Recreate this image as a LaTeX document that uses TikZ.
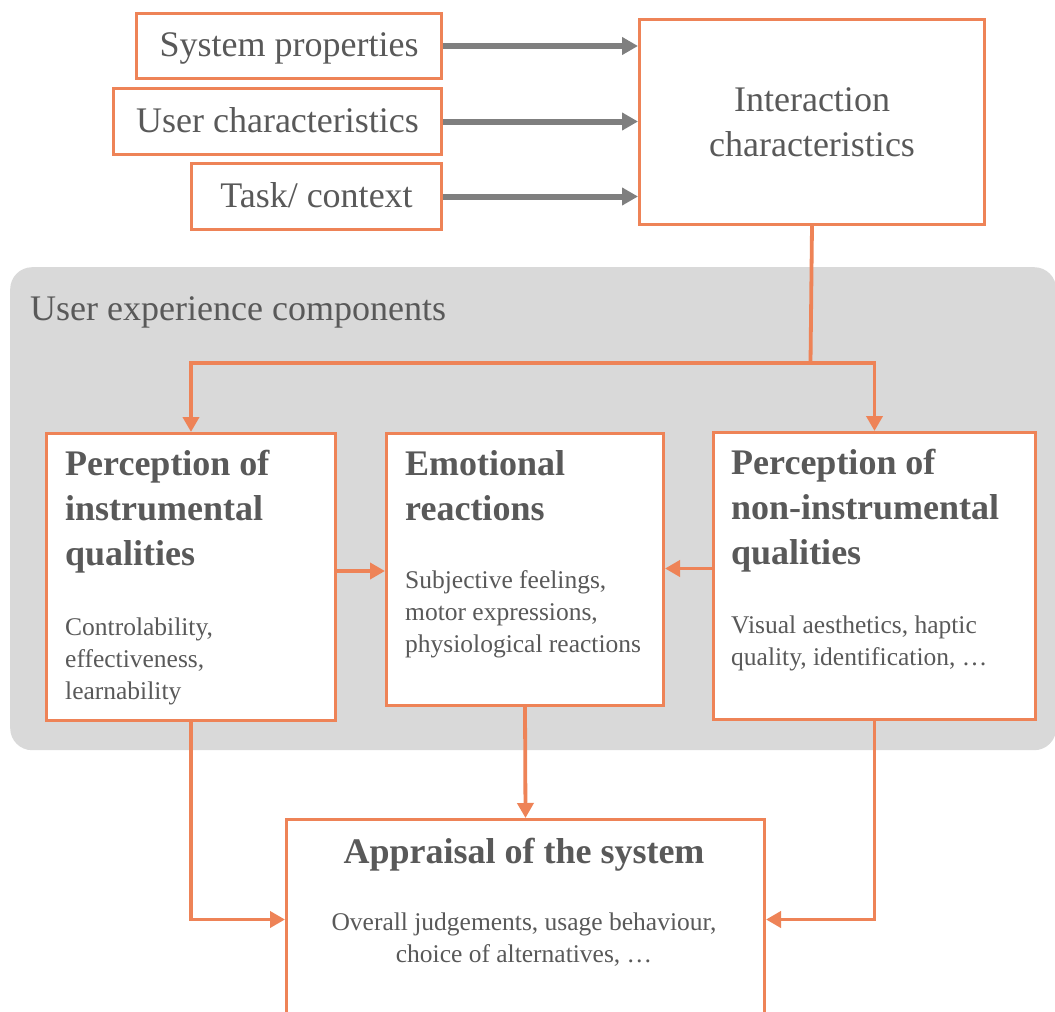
\documentclass[tikz,border=0pt]{standalone}
\usepackage{fontspec}
\setmainfont{Liberation Serif}
\usetikzlibrary{arrows.meta}

\definecolor{accent}{HTML}{EE8357}
\definecolor{panelgray}{HTML}{D9D9D9}
\definecolor{ink}{HTML}{595959}
\definecolor{arrowgray}{HTML}{7F7F7F}

% invisible rule that fixes the height of a first text line
\newcommand{\lineup}[1]{\rule{0pt}{#1}}

\begin{document}
\begin{tikzpicture}[x=1pt,y=-1pt,
  frame/.style={draw=accent, line width=3pt, fill=white, inner sep=0pt, anchor=north west},
  inbox/.style={frame, text=ink, font=\fontsize{36}{45}\selectfont,
                text height=24pt, text depth=3pt},
  head/.style={anchor=north west, inner sep=0pt, align=left, text=ink,
               font=\fontsize{36}{45}\selectfont\bfseries},
  body/.style={anchor=north west, inner sep=0pt, align=left, text=ink,
               font=\fontsize{25.5}{32}\selectfont},
  feed/.style={draw=arrowgray, line width=6pt,
               -{Triangle[length=16pt,width=17pt]}},
  flow/.style={draw=accent, line width=3.8pt},
  flowto/.style={flow, -{Triangle[length=15pt,width=16pt]}}
]
\clip (0,0) rectangle (1055,1012);
\fill[white] (0,0) rectangle (1055,1012);

% grey panel of the user experience components
\node[fill=panelgray, rounded corners=22pt, inner sep=0pt, anchor=north west,
      minimum width=1046pt, minimum height=483pt] (panel) at (10,267) {};
\node[anchor=north west, inner sep=0pt, text=ink, font=\fontsize{36}{45}\selectfont]
  (paneltitle) at (30,290) {\lineup{30pt}User experience components};

% input boxes
\node[inbox, minimum width=305pt, minimum height=65pt] (sys)  at (135,12)  {System properties};
\node[inbox, minimum width=328pt, minimum height=66pt] (usr)  at (112,87)  {User characteristics};
\node[inbox, minimum width=250pt, minimum height=66pt] (task) at (190,162) {Task/ context};

\node[frame, minimum width=345pt, minimum height=205pt, align=center, text=ink,
      font=\fontsize{36}{45}\selectfont] (ic) at (638,18) {Interaction\\characteristics};

% component boxes
\node[frame, minimum width=289pt, minimum height=287pt] (pinst) at (45,432) {};
\node[frame, minimum width=277pt, minimum height=272pt] (emo)   at (385,432) {};
\node[frame, minimum width=322pt, minimum height=287pt] (pnon)  at (712,431) {};

% outcome box, running past the lower edge
\node[frame, minimum width=478pt, minimum height=200pt] (appr) at (285,818) {};

% feeds into the interaction characteristics
\draw[feed] (sys.east)  -- (sys.east  -| ic.west);
\draw[feed] (usr.east)  -- (usr.east  -| ic.west);
\draw[feed] (task.east) -- (task.east -| ic.west);

% branching from the interaction characteristics
\coordinate (split) at (810.5,363);
\draw[flow] (ic.south) -- (split);
\draw[flowto] (split) -| (pinst.north);
\draw[flowto] (split) -| (pnon.north);

% links between the components
\draw[flowto] ([yshift=6pt]pinst.east) -- ([yshift=6pt]pinst.east -| emo.west);
\draw[flowto] ([yshift=7.5pt]pnon.west) -- ([yshift=7.5pt]pnon.west -| emo.east);

% links to the appraisal
\draw[flowto] (pinst.south) |- (appr.west);
\draw[flowto] (pnon.south)  |- (appr.east);
\draw[flowto] (emo.south)   -- (appr.north);

% texts of the component boxes
\node[head] (hinst) at (65,445)  {\lineup{30pt}Perception of\\instrumental\\qualities};
\node[body] (binst) at (65,615)  {\lineup{20pt}Controlability,\\effectiveness,\\learnability};

\node[head] (hemo)  at (405,445) {\lineup{30pt}Emotional\\reactions};
\node[body] (bemo)  at (405,568) {\lineup{20pt}Subjective feelings,\\motor expressions,\\physiological reactions};

\node[head] (hnon)  at (731,444) {\lineup{30pt}Perception of\\non-instrumental\\qualities};
\node[body] (bnon)  at (731,613) {\lineup{20pt}Visual aesthetics, haptic\\quality, identification, …};

\node[head, anchor=north, align=center] (happr) at (524,833)
  {\lineup{30pt}Appraisal of the system};
\node[body, anchor=north, align=center, font=\fontsize{25.5}{32.5}\selectfont] (bappr) at (524,910)
  {\lineup{20pt}Overall judgements, usage behaviour,\\choice of alternatives, …};
\end{tikzpicture}
\end{document}
